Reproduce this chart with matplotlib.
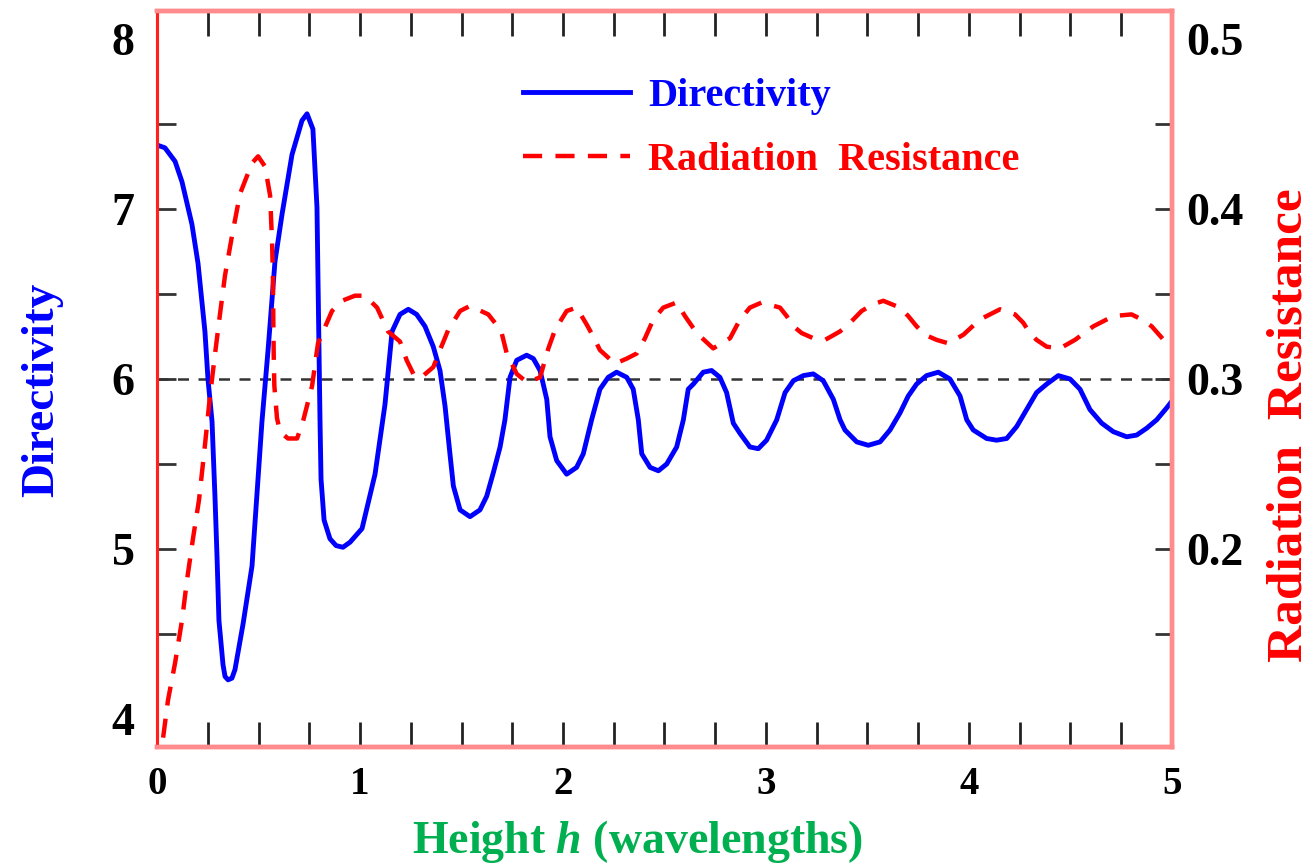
import numpy as np
import matplotlib
matplotlib.use("Agg")
import matplotlib.pyplot as plt

plt.rcParams['font.family'] = ['Liberation Serif', 'DejaVu Serif']
plt.rcParams['font.weight'] = 'bold'
plt.rcParams['mathtext.fontset'] = 'custom'
plt.rcParams['mathtext.it'] = 'Liberation Serif:italic:bold'
plt.rcParams['mathtext.rm'] = 'Liberation Serif:bold'

# Directivity (left axis) vs height h in wavelengths
h_dir = [0.015, 0.039, 0.089, 0.123, 0.172, 0.202, 0.236, 0.251, 0.271, 0.286,
         0.296, 0.305, 0.325, 0.335, 0.350, 0.369, 0.384, 0.424, 0.468, 0.517,
         0.547, 0.581, 0.616, 0.665, 0.714, 0.739, 0.768, 0.788, 0.793, 0.798,
         0.803, 0.808, 0.823, 0.852, 0.882, 0.916, 0.951, 1.010, 1.074, 1.123,
         1.158, 1.197, 1.238, 1.279, 1.320, 1.361, 1.394, 1.419, 1.443, 1.460,
         1.493, 1.542, 1.591, 1.624, 1.657, 1.690, 1.714, 1.739, 1.772, 1.821,
         1.854, 1.887, 1.920, 1.936, 1.969, 2.018, 2.067, 2.100, 2.141, 2.182,
         2.223, 2.264, 2.314, 2.346, 2.371, 2.388, 2.429, 2.470, 2.511, 2.560,
         2.593, 2.617, 2.642, 2.691, 2.732, 2.773, 2.806, 2.839, 2.872, 2.921,
         2.962, 3.003, 3.053, 3.094, 3.135, 3.184, 3.233, 3.282, 3.332, 3.365,
         3.389, 3.447, 3.504, 3.562, 3.611, 3.660, 3.701, 3.742, 3.791, 3.849,
         3.906, 3.956, 3.989, 4.021, 4.087, 4.136, 4.186, 4.235, 4.284, 4.333,
         4.383, 4.440, 4.498, 4.547, 4.596, 4.654, 4.711, 4.777, 4.826, 4.875,
         4.925, 4.974, 5.000]
directivity = [7.37, 7.36, 7.28, 7.16, 6.91, 6.68, 6.28, 6.00, 5.75, 5.29,
               4.94, 4.58, 4.32, 4.25, 4.23, 4.24, 4.29, 4.56, 4.90, 5.75,
               6.17, 6.69, 6.97, 7.32, 7.52, 7.56, 7.47, 7.01, 6.58, 6.17,
               5.75, 5.41, 5.17, 5.06, 5.02, 5.01, 5.04, 5.12, 5.44, 5.85,
               6.28, 6.38, 6.41, 6.38, 6.31, 6.19, 6.05, 5.84, 5.56, 5.37,
               5.23, 5.19, 5.23, 5.31, 5.45, 5.60, 5.76, 6.01, 6.11, 6.14,
               6.12, 6.05, 5.88, 5.66, 5.52, 5.44, 5.48, 5.56, 5.76, 5.94,
               6.01, 6.04, 6.01, 5.94, 5.76, 5.56, 5.48, 5.46, 5.50, 5.60,
               5.76, 5.94, 5.97, 6.04, 6.05, 6.01, 5.92, 5.74, 5.68, 5.60,
               5.59, 5.64, 5.76, 5.92, 5.99, 6.02, 6.03, 5.99, 5.88, 5.76,
               5.70, 5.63, 5.61, 5.63, 5.70, 5.80, 5.90, 5.97, 6.02, 6.04,
               6.00, 5.90, 5.76, 5.70, 5.65, 5.64, 5.65, 5.72, 5.82, 5.92,
               5.97, 6.02, 6.00, 5.94, 5.82, 5.74, 5.69, 5.66, 5.67, 5.71,
               5.76, 5.83, 5.87]

# Radiation resistance (right axis)
h_res = [0.030, 0.054, 0.089, 0.123, 0.148, 0.177, 0.207, 0.236, 0.261, 0.286,
         0.310, 0.335, 0.369, 0.409, 0.468, 0.498, 0.532, 0.557, 0.567, 0.571,
         0.573, 0.575, 0.578, 0.591, 0.606, 0.645, 0.690, 0.719, 0.764, 0.793,
         0.862, 0.911, 0.975, 1.025, 1.084, 1.138, 1.197, 1.230, 1.271, 1.312,
         1.361, 1.394, 1.435, 1.493, 1.542, 1.632, 1.665, 1.698, 1.723, 1.772,
         1.823, 1.887, 1.928, 1.961, 2.018, 2.067, 2.117, 2.149, 2.182, 2.256,
         2.314, 2.363, 2.404, 2.445, 2.494, 2.560, 2.601, 2.659, 2.740, 2.823,
         2.872, 2.921, 2.979, 3.069, 3.102, 3.135, 3.176, 3.233, 3.291, 3.365,
         3.414, 3.471, 3.529, 3.578, 3.660, 3.701, 3.742, 3.783, 3.841, 3.898,
         3.972, 4.054, 4.153, 4.227, 4.268, 4.300, 4.333, 4.383, 4.448, 4.522,
         4.613, 4.711, 4.801, 4.851, 4.900, 4.974, 5.000]
resistance = [0.089, 0.111, 0.133, 0.158, 0.182, 0.206, 0.229, 0.261, 0.290, 0.315,
              0.338, 0.361, 0.384, 0.409, 0.427, 0.431, 0.425, 0.408, 0.380, 0.359,
              0.334, 0.313, 0.296, 0.277, 0.269, 0.265, 0.265, 0.275, 0.296, 0.321,
              0.340, 0.346, 0.349, 0.349, 0.342, 0.328, 0.322, 0.311, 0.301, 0.302,
              0.307, 0.317, 0.329, 0.340, 0.343, 0.338, 0.333, 0.327, 0.315, 0.303,
              0.298, 0.301, 0.318, 0.329, 0.340, 0.342, 0.332, 0.325, 0.317, 0.309,
              0.312, 0.315, 0.324, 0.335, 0.342, 0.345, 0.337, 0.327, 0.318, 0.324,
              0.335, 0.342, 0.345, 0.342, 0.337, 0.331, 0.327, 0.324, 0.323, 0.328,
              0.333, 0.340, 0.344, 0.346, 0.342, 0.337, 0.331, 0.326, 0.323, 0.321,
              0.326, 0.335, 0.341, 0.338, 0.333, 0.327, 0.323, 0.319, 0.318, 0.323,
              0.331, 0.337, 0.338, 0.335, 0.331, 0.321, 0.320]

ref_level = 6  # dashed reference line
x_labels = ['0', '1', '2', '3', '4', '5']
dir_labels = ['4', '5', '6', '7', '8']
res_labels = ['0.2', '0.3', '0.4', '0.5']

fig = plt.figure(figsize=(13.14, 8.64), dpi=100)
fig.subplots_adjust(left=0.1195, right=0.8919, bottom=0.1354, top=0.9873)
ax = fig.add_subplot(111)
ax2 = ax.twinx()

ax.axhline(ref_level, color='#333333', lw=1.8, dashes=(4.4, 3.8), zorder=1)
l1, = ax.plot(h_dir, directivity, color='#0000ff', lw=3.5, label='Directivity', zorder=3)
l2, = ax2.plot(h_res, resistance, color='#ff0000', lw=3.2, dashes=(4.3, 3),
               label='Radiation  Resistance')

ax.set_xlim(0, 5)
ax.set_ylim(3.835, 8.165)
ax2.set_ylim(0.0835, 0.5165)

# x ticks
ax.set_xticks(range(6))
ax.set_xticklabels(x_labels)
ax.set_xticks(np.arange(0.25, 4.8, 0.25), minor=True)
ax.xaxis.remove_overlapping_locs = False
ax.tick_params(axis='x', which='major', length=0, pad=14, labelsize=28)
ax.tick_params(axis='x', which='minor', direction='in', length=18, width=2,
               color='#222222', top=True, bottom=True)

# left y ticks
ax.set_yticks([4, 5, 6, 7, 8])
ax.set_yticklabels(dir_labels)
ax.set_yticks([4.5, 5, 5.5, 6, 6.5, 7, 7.5], minor=True)
ax.yaxis.remove_overlapping_locs = False
ax.tick_params(axis='y', which='major', length=0, pad=16, labelsize=33)
ax.tick_params(axis='y', which='minor', direction='in', length=14, width=2, color='#333333')

# right y ticks
ax2.set_yticks([0.2, 0.3, 0.4, 0.5])
ax2.set_yticklabels(res_labels)
ax2.set_yticks([0.15, 0.2, 0.25, 0.3, 0.35, 0.4, 0.45], minor=True)
ax2.yaxis.remove_overlapping_locs = False
ax2.tick_params(axis='y', which='major', length=0, pad=10, labelsize=33)
ax2.tick_params(axis='y', which='minor', direction='in', length=12, width=2, color='#333333')

for a in (ax, ax2):
    a.spines['left'].set_color('#ff2020')
    a.spines['left'].set_linewidth(2.2)
    for s in ('top', 'right', 'bottom'):
        a.spines[s].set_color('#ff8c8c')
        a.spines[s].set_linewidth(3.2)

ax.set_ylabel('Directivity', color='#0000ff', fontsize=34, fontweight='bold')
ax.yaxis.set_label_coords(-0.092, 0.485)
ax2.set_ylabel('Radiation  Resistance', color='#ff0000', fontsize=37, fontweight='bold')
ax2.yaxis.set_label_coords(1.093, 0.4375)
ax.set_xlabel('Height $h$ (wavelengths)', color='#00b050', fontsize=33, fontweight='bold')
ax.xaxis.set_label_coords(0.473, -0.0965)

leg = ax2.legend(handles=[l1, l2], loc='upper left', bbox_to_anchor=(0.3606, 0.9086),
                 frameon=False, fontsize=29, handlelength=2.65, handletextpad=0.45,
                 labelspacing=0.65, borderpad=0, borderaxespad=0)
for txt, c in zip(leg.get_texts(), ['#0000ff', '#ff0000']):
    txt.set_color(c)

fig.savefig('out.png', dpi=100)
